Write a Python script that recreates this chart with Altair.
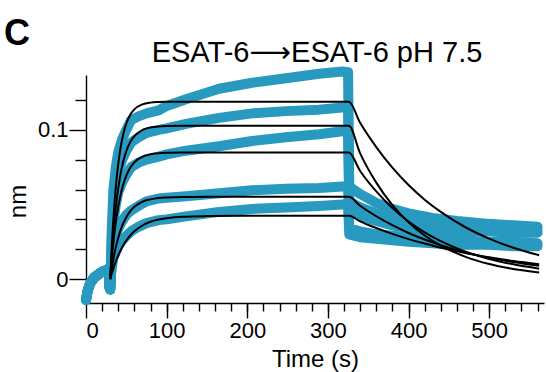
import altair as alt
import pandas as pd

# ---- Sensorgram data (nm shift vs time) ----
# Baseline, shared by all five traces
BASE_T = [0, 2, 5, 10, 15, 20, 25, 28, 29.3, 30]
BASE_V = [-0.014, -0.008, -0.003, 0.001, 0.003, 0.005, 0.006, 0.007, -0.006, -0.007]

# Association phase
ASSOC_T = [31, 32, 34, 37, 40, 45, 50, 56, 65, 75, 90, 100, 124, 165, 206, 248, 289, 318, 325]
ASSOC_1 = [0.008, 0.035, 0.060, 0.075, 0.085, 0.094, 0.100, 0.1065, 0.109, 0.111, 0.113, 0.116, 0.1205, 0.1275, 0.1315, 0.1345, 0.1375, 0.139, 0.1385]
ASSOC_2 = [0.007, 0.028, 0.048, 0.063, 0.072, 0.080, 0.086, 0.0915, 0.095, 0.098, 0.100, 0.101, 0.104, 0.108, 0.111, 0.1125, 0.1135, 0.115, 0.1145]
ASSOC_3 = [0.006, 0.022, 0.038, 0.050, 0.058, 0.065, 0.070, 0.075, 0.078, 0.080, 0.082, 0.0835, 0.086, 0.089, 0.0925, 0.095, 0.097, 0.099, 0.099]
ASSOC_4 = [0.004, 0.012, 0.022, 0.029, 0.034, 0.039, 0.043, 0.046, 0.049, 0.052, 0.054, 0.0545, 0.0555, 0.0575, 0.0595, 0.0605, 0.061, 0.062, 0.062]
ASSOC_5 = [0.003, 0.008, 0.014, 0.018, 0.022, 0.026, 0.029, 0.032, 0.035, 0.0375, 0.0395, 0.040, 0.042, 0.045, 0.047, 0.048, 0.049, 0.050, 0.050]

# Dissociation phase
DISS_T = [326.5, 340, 360, 380, 400, 430, 460, 500, 530, 560]
DISS_1 = [0.062, 0.057, 0.051, 0.047, 0.044, 0.041, 0.039, 0.037, 0.036, 0.035]
DISS_2 = [0.052, 0.048, 0.044, 0.041, 0.039, 0.037, 0.035, 0.034, 0.033, 0.033]
DISS_3 = [0.046, 0.042, 0.039, 0.036, 0.034, 0.033, 0.032, 0.032, 0.031, 0.031]
DISS_4 = [0.034, 0.032, 0.030, 0.029, 0.028, 0.027, 0.026, 0.025, 0.025, 0.024]
DISS_5 = [0.030, 0.028, 0.027, 0.026, 0.025, 0.024, 0.023, 0.023, 0.022, 0.022]

# ---- Kinetic fit curves ----
FIT_ASSOC_T = [30, 32, 35, 38, 42, 46, 50, 55, 60, 70, 80, 90, 100, 120, 150, 200, 326]
FIT_A1 = [0, 0.0225, 0.0485, 0.0675, 0.0851, 0.0967, 0.1042, 0.1102, 0.1137, 0.1170, 0.1182, 0.1186, 0.1188, 0.1188, 0.1188, 0.1188, 0.1188]
FIT_A2 = [0, 0.0169, 0.0372, 0.0527, 0.0678, 0.0784, 0.0857, 0.0919, 0.0958, 0.0999, 0.1016, 0.1022, 0.1025, 0.1027, 0.1027, 0.1027, 0.1027]
FIT_A3 = [0, 0.0133, 0.0294, 0.0418, 0.0542, 0.0630, 0.0693, 0.0747, 0.0782, 0.0820, 0.0836, 0.0843, 0.0846, 0.0848, 0.0848, 0.0848, 0.0848]
FIT_A4 = [0, 0.0072, 0.0163, 0.0236, 0.0313, 0.0371, 0.0415, 0.0455, 0.0484, 0.0518, 0.0534, 0.0543, 0.0547, 0.0550, 0.0551, 0.0551, 0.0551]
FIT_A5 = [0, 0.0038, 0.0089, 0.0133, 0.0183, 0.0224, 0.0258, 0.0293, 0.0320, 0.0359, 0.0384, 0.0399, 0.0408, 0.0418, 0.0422, 0.0424, 0.0424]

FIT_DISS_T = [340, 360, 380, 400, 420, 440, 470, 500, 530, 562]
FIT_D1 = [0.1047, 0.0884, 0.0746, 0.0630, 0.0532, 0.0450, 0.0349, 0.0271, 0.0210, 0.0160]
FIT_D2 = [0.0842, 0.0646, 0.0496, 0.0381, 0.0292, 0.0224, 0.0151, 0.0101, 0.0068, 0.0045]
FIT_D3 = [0.0724, 0.0587, 0.0476, 0.0386, 0.0313, 0.0254, 0.0185, 0.0135, 0.0099, 0.0070]
FIT_D4 = [0.0491, 0.0421, 0.0361, 0.0309, 0.0265, 0.0227, 0.0180, 0.0143, 0.0114, 0.0089]
FIT_D5 = [0.0387, 0.0342, 0.0303, 0.0268, 0.0238, 0.0210, 0.0175, 0.0146, 0.0121, 0.0100]

# Axis ticks
X_MAJOR = [0, 100, 200, 300, 400, 500]
X_MINOR = list(range(20, 561, 20))
Y_MAJOR = [0, 0.1]
Y_MINOR = [0.02, 0.04, 0.06, 0.08, 0.12]

ASSOC = [ASSOC_1, ASSOC_2, ASSOC_3, ASSOC_4, ASSOC_5]
DISS = [DISS_1, DISS_2, DISS_3, DISS_4, DISS_5]
FIT_A = [FIT_A1, FIT_A2, FIT_A3, FIT_A4, FIT_A5]
FIT_D = [FIT_D1, FIT_D2, FIT_D3, FIT_D4, FIT_D5]

TITLE = "ESAT-6\u27f6ESAT-6 pH 7.5"
PANEL = "C"

rows = []
for i in range(5):
    ts = BASE_T + ASSOC_T + DISS_T
    vs = BASE_V + ASSOC[i] + DISS[i]
    rows += [{"t": t, "v": v, "trace": f"s{i+1}"} for t, v in zip(ts, vs)]
raw = pd.DataFrame(rows)

rows = []
for i in range(5):
    ts = FIT_ASSOC_T + FIT_DISS_T
    vs = FIT_A[i] + FIT_D[i]
    rows += [{"t": t, "v": v, "trace": f"f{i+1}"} for t, v in zip(ts, vs)]
fits = pd.DataFrame(rows)

FONT = "Liberation Sans, DejaVu Sans"
BLUE = "#2899BF"

x_scale = alt.Scale(domain=[0, 568], nice=False, zero=False)
y_scale = alt.Scale(domain=[-0.016, 0.1367], nice=False, zero=False)

x_major = alt.X(
    "t:Q", scale=x_scale,
    axis=alt.Axis(
        title="Time (s)", orient="bottom", values=X_MAJOR, format="d",
        tickSize=15, labelOverlap=False, labelPadding=2,
        titleY=63, titleBaseline="alphabetic",
    ),
)
y_major = alt.Y(
    "v:Q", scale=y_scale,
    axis=alt.Axis(
        title="nm", orient="left", values=Y_MAJOR,
        labelExpr="datum.value === 0 ? '0' : '0.1'",
        tickSize=17, labelOverlap=False, labelPadding=1,
        titleX=-61, titleY=126, titleBaseline="alphabetic",
    ),
)
x_minor = alt.X(
    "t:Q", scale=x_scale,
    axis=alt.Axis(title=None, orient="bottom", values=X_MINOR, tickSize=8,
                  labels=False, domain=False),
)
y_minor = alt.Y(
    "v:Q", scale=y_scale,
    axis=alt.Axis(title=None, orient="left", values=Y_MINOR, tickSize=11,
                  labels=False, domain=False),
)

# thick blue measured traces
data_layer = alt.Chart(raw).mark_line(
    color=BLUE, strokeWidth=10, strokeCap="round", strokeJoin="round"
).encode(x=x_major, y=y_major, detail="trace:N")

# thin black fitted curves, also carrying the minor tick axes
fit_layer = alt.Chart(fits).mark_line(
    color="black", strokeWidth=2, interpolate="monotone"
).encode(x=x_minor, y=y_minor, detail="trace:N")

panel = alt.Chart(pd.DataFrame({"label": [PANEL]})).mark_text(
    align="left", baseline="alphabetic", fontSize=36, fontWeight="bold",
    font="Liberation Sans", color="black"
).encode(text="label:N", x=alt.value(-82), y=alt.value(-30))

heading = alt.Chart(pd.DataFrame({"label": [TITLE]})).mark_text(
    align="center", baseline="alphabetic", fontSize=29, font=FONT, color="black"
).encode(text="label:N", x=alt.value(231), y=alt.value(-13))

chart = alt.layer(data_layer, fit_layer, panel, heading).resolve_axis(
    x="independent", y="independent"
).properties(
    width=458,
    height=228,
    autosize=alt.AutoSizeParams(type="none"),
    padding={"left": 86, "top": 75, "right": 2, "bottom": 69},
).configure_view(stroke=None).configure_axis(
    grid=False,
    domainColor="black",
    domainWidth=1.4,
    tickColor="black",
    tickWidth=1.4,
    labelFont="Liberation Sans",
    labelFontSize=22,
    labelColor="black",
    titleFont="Liberation Sans",
    titleFontSize=24,
    titleFontWeight="normal",
    titleColor="black",
)

chart.save("out.html", embed_options={"renderer": "svg", "actions": False})
